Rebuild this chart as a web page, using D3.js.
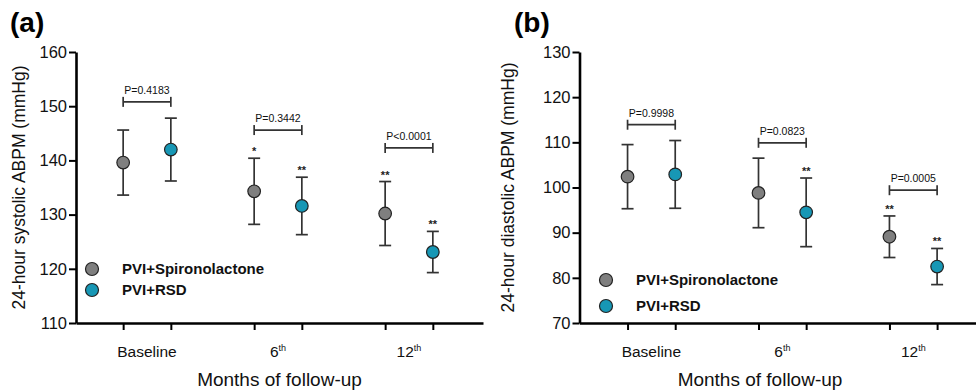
<!DOCTYPE html>
<html>
<head>
<meta charset="utf-8">
<script src="https://cdn.jsdelivr.net/npm/d3@7"></script>
<style>
  html, body { margin: 0; padding: 0; background: #fff; }
  svg { display: block; font-family: "Liberation Sans", Arial, Helvetica, sans-serif; }
</style>
</head>
<body>
<svg id="chart" width="976" height="391"></svg>
<script>
// ---------- DATA ----------
const categories = ["Baseline", "6", "12"];
const categorySup = ["", "th", "th"];
const seriesNames = ["PVI+Spironolactone", "PVI+RSD"];

const sysSpiroMean = [139.6, 134.3, 130.2];
const sysSpiroSD   = [6.0, 6.1, 5.9];
const sysRsdMean   = [142.0, 131.6, 123.1];
const sysRsdSD     = [5.8, 5.3, 3.8];
const sysPLabels   = ["P=0.4183", "P=0.3442", "P<0.0001"];
const sysBracket   = [150.8, 145.6, 142.3];
const sysSpiroStars = ["", "*", "**"];
const sysRsdStars   = ["", "**", "**"];
const sysTicks = [110, 120, 130, 140, 150, 160];

const diaSpiroMean = [102.4, 98.8, 89.1];
const diaSpiroSD   = [7.1, 7.7, 4.6];
const diaRsdMean   = [102.9, 94.5, 82.5];
const diaRsdSD     = [7.5, 7.6, 4.0];
const diaPLabels   = ["P=0.9998", "P=0.0823", "P=0.0005"];
const diaBracket   = [113.9, 109.9, 99.4];
const diaSpiroStars = ["", "", "**"];
const diaRsdStars   = ["", "**", "**"];
const diaTicks = [70, 80, 90, 100, 110, 120, 130];

// ---------- STYLE ----------
const colors = ["#7f7f7f", "#1797b5"];
const barColor = "#333";
const svg = d3.select("#chart");

function panel(cfg) {
  const g = svg.append("g");
  const x = d3.scaleLinear().domain(cfg.xDomain).range([cfg.left, cfg.right]);
  const y = d3.scaleLinear().domain(cfg.yDomain).range([cfg.bottom, cfg.top]);
  const off = 0.182;

  // Title
  g.append("text").attr("x", cfg.titleX).attr("y", 32)
    .attr("font-size", 28).attr("font-weight", "bold").text(cfg.title);

  // Y axis
  const yAxis = g.append("g").attr("transform", `translate(${cfg.left},0)`)
    .call(d3.axisLeft(y).tickValues(cfg.ticks).tickSize(7).tickPadding(2).tickSizeOuter(0));
  yAxis.select(".domain").attr("stroke", "#000").attr("stroke-width", 2.6);
  yAxis.selectAll(".tick line").attr("stroke", "#000").attr("stroke-width", 2);
  yAxis.selectAll(".tick text").attr("font-size", 16.5).attr("fill", "#111")
    .attr("font-family", "Liberation Sans, Arial, sans-serif");

  // X axis
  const xTickVals = [];
  categories.forEach((c, i) => { xTickVals.push(i - off, i + off); });
  const xAxis = g.append("g").attr("transform", `translate(0,${cfg.bottom})`)
    .call(d3.axisBottom(x).tickValues(xTickVals).tickSize(7).tickFormat("").tickSizeOuter(0));
  xAxis.select(".domain").attr("stroke", "#000").attr("stroke-width", 2.6);
  xAxis.selectAll(".tick line").attr("stroke", "#000").attr("stroke-width", 2);

  // Category labels
  categories.forEach((c, i) => {
    const t = g.append("text").attr("x", x(i)).attr("y", 357)
      .attr("text-anchor", "middle").attr("font-size", 15.5).attr("fill", "#111");
    t.append("tspan").text(c);
    if (categorySup[i]) {
      t.append("tspan").attr("font-size", 9).attr("dy", -6).text(categorySup[i]);
    }
  });

  // Axis titles
  g.append("text").attr("x", cfg.xLabelX).attr("y", 386)
    .attr("text-anchor", "middle").attr("font-size", 19).attr("fill", "#111")
    .text("Months of follow-up");
  g.append("text")
    .attr("transform", `translate(${cfg.yLabelX},${(cfg.top + cfg.bottom) / 2}) rotate(-90)`)
    .attr("text-anchor", "middle").attr("font-size", 17.5).attr("fill", "#111")
    .text(cfg.yLabel);

  // Series
  const series = [
    { mean: cfg.spiroMean, sd: cfg.spiroSD, stars: cfg.spiroStars, o: -off, color: colors[0] },
    { mean: cfg.rsdMean, sd: cfg.rsdSD, stars: cfg.rsdStars, o: off, color: colors[1] }
  ];
  const cap = 6;
  series.forEach(s => {
    const data = categories.map((c, i) => ({ i, m: s.mean[i], sd: s.sd[i], st: s.stars[i] }));
    const eg = g.append("g");
    eg.selectAll("line.v").data(data).join("line")
      .attr("x1", d => x(d.i + s.o)).attr("x2", d => x(d.i + s.o))
      .attr("y1", d => y(d.m + d.sd)).attr("y2", d => y(d.m - d.sd))
      .attr("stroke", barColor).attr("stroke-width", 1.7);
    eg.selectAll("line.t").data(data).join("line")
      .attr("x1", d => x(d.i + s.o) - cap).attr("x2", d => x(d.i + s.o) + cap)
      .attr("y1", d => y(d.m + d.sd)).attr("y2", d => y(d.m + d.sd))
      .attr("stroke", barColor).attr("stroke-width", 1.7);
    eg.selectAll("line.b").data(data).join("line")
      .attr("x1", d => x(d.i + s.o) - cap).attr("x2", d => x(d.i + s.o) + cap)
      .attr("y1", d => y(d.m - d.sd)).attr("y2", d => y(d.m - d.sd))
      .attr("stroke", barColor).attr("stroke-width", 1.7);
    eg.selectAll("circle").data(data).join("circle")
      .attr("cx", d => x(d.i + s.o)).attr("cy", d => y(d.m)).attr("r", 6.3)
      .attr("fill", s.color).attr("stroke", "#222").attr("stroke-width", 1.2);
    eg.selectAll("text").data(data.filter(d => d.st)).join("text")
      .attr("x", d => x(d.i + s.o)).attr("y", d => y(d.m + d.sd) - 3)
      .attr("text-anchor", "middle").attr("font-size", 11).attr("font-weight", "bold")
      .attr("fill", "#222").text(d => d.st);
  });

  // P brackets
  categories.forEach((c, i) => {
    const by = y(cfg.bracket[i]);
    const x1 = x(i - off), x2 = x(i + off);
    const bg = g.append("g").attr("stroke", barColor).attr("stroke-width", 1.7);
    bg.append("line").attr("x1", x1).attr("x2", x2).attr("y1", by).attr("y2", by);
    bg.append("line").attr("x1", x1).attr("x2", x1).attr("y1", by - 5).attr("y2", by + 5);
    bg.append("line").attr("x1", x2).attr("x2", x2).attr("y1", by - 5).attr("y2", by + 5);
    g.append("text").attr("x", x(i)).attr("y", by - 8).attr("text-anchor", "middle")
      .attr("font-size", 10.5).attr("fill", "#111").text(cfg.pLabels[i]);
  });

  // Legend
  seriesNames.forEach((n, k) => {
    const ly = cfg.legendY[k];
    g.append("circle").attr("cx", cfg.legendX).attr("cy", ly).attr("r", 6.5)
      .attr("fill", colors[k]).attr("stroke", "#222").attr("stroke-width", 1.2);
    g.append("text").attr("x", cfg.legendX + 30).attr("y", ly + 5.3)
      .attr("font-size", 15).attr("font-weight", "bold").attr("fill", "#111").text(n);
  });
}

panel({
  title: "(a)", titleX: 10,
  left: 76, right: 483, top: 52, bottom: 323,
  xDomain: [-0.542, 2.565], yDomain: [110, 160], ticks: sysTicks,
  yLabel: "24-hour systolic ABPM (mmHg)", yLabelX: 25, xLabelX: 279.5,
  spiroMean: sysSpiroMean, spiroSD: sysSpiroSD, spiroStars: sysSpiroStars,
  rsdMean: sysRsdMean, rsdSD: sysRsdSD, rsdStars: sysRsdStars,
  bracket: sysBracket, pLabels: sysPLabels,
  legendX: 92, legendY: [269, 290]
});

panel({
  title: "(b)", titleX: 514,
  left: 579.5, right: 976, top: 52, bottom: 323,
  xDomain: [-0.549, 2.479], yDomain: [70, 130], ticks: diaTicks,
  yLabel: "24-hour diastolic ABPM (mmHg)", yLabelX: 514, xLabelX: 760,
  spiroMean: diaSpiroMean, spiroSD: diaSpiroSD, spiroStars: diaSpiroStars,
  rsdMean: diaRsdMean, rsdSD: diaRsdSD, rsdStars: diaRsdStars,
  bracket: diaBracket, pLabels: diaPLabels,
  legendX: 606, legendY: [280, 306]
});
</script>
</body>
</html>
